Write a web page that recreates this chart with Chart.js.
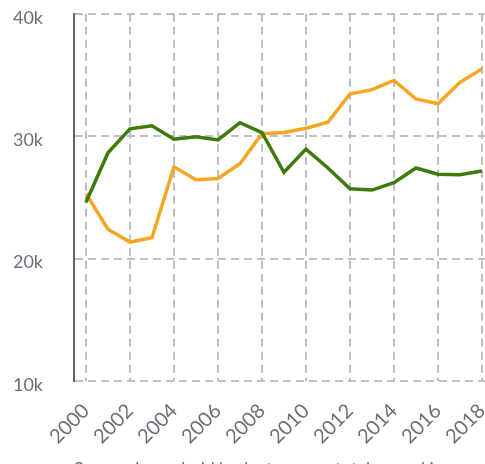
<!DOCTYPE html>
<html>
<head>
<meta charset="utf-8">
<script src="https://cdn.jsdelivr.net/npm/chart.js@4"></script>
<style>
  html, body { margin: 0; padding: 0; background: #fff; }
</style>
</head>
<body>
<canvas id="chart" width="485" height="464"></canvas>
<script>
// data
const years = [2000, 2001, 2002, 2003, 2004, 2005, 2006, 2007, 2008, 2009,
               2010, 2011, 2012, 2013, 2014, 2015, 2016, 2017, 2018];
const greenValues = [24600, 28650, 30600, 30850, 29750, 29950, 29700, 31100, 30300, 27050,
                     28950, 27400, 25700, 25600, 26200, 27400, 26900, 26850, 27150];
const orangeValues = [25300, 22400, 21350, 21700, 27500, 26450, 26550, 27750, 30200, 30300,
                      30650, 31150, 33450, 33800, 34550, 33050, 32650, 34400, 35500];
const yTickValues = [10000, 20000, 30000, 40000];
const xTitle = 'Source: household budget survey, total annual income';

const gridColor = '#bcbfc4';
const axisColor = '#5f6673';
const textColor = '#6b7079';

function toPoints(values) {
  return years.map((y, i) => ({ x: y, y: values[i] }));
}

const ctx = document.getElementById('chart').getContext('2d');
const chart = new Chart(ctx, {
  type: 'line',
  data: {
    datasets: [
      {
        label: 'Green',
        data: toPoints(greenValues),
        borderColor: '#3f7a0c',
        borderWidth: 3.5,
        pointRadius: 0,
        tension: 0
      },
      {
        label: 'Orange',
        data: toPoints(orangeValues),
        borderColor: '#f6a623',
        borderWidth: 3.5,
        pointRadius: 0,
        tension: 0
      }
    ]
  },
  options: {
    responsive: false,
    animation: false,
    layout: {
      autoPadding: false,
      padding: { top: 0, left: 0, right: 0, bottom: 0 }
    },
    plugins: {
      legend: { display: false },
      tooltip: { enabled: false }
    },
    scales: {
      x: {
        type: 'linear',
        min: 1999.455,
        max: 2018.14,
        border: { display: false, dash: [8, 5] },
        // invisible tick marks keep the labels away from the axis
        grid: { color: gridColor, lineWidth: 2, drawTicks: true, tickLength: 32, tickColor: 'rgba(0,0,0,0)' },
        ticks: {
          stepSize: 2,
          includeBounds: false,
          minRotation: 45,
          maxRotation: 45,
          padding: -14,
          color: textColor,
          font: { family: 'Lato', size: 20 },
          callback: v => String(v)
        },
        title: {
          display: true,
          text: xTitle,
          color: textColor,
          font: { family: 'Lato', size: 18 },
          padding: { top: 0, bottom: -16 }
        },
        afterFit: scale => { scale.height = 83; }
      },
      y: {
        min: 10000,
        max: 40000,
        border: { display: true, color: axisColor, width: 2, dash: [8, 5] },
        grid: { color: gridColor, lineWidth: 2, drawTicks: true, tickLength: 28, tickColor: 'rgba(0,0,0,0)' },
        afterBuildTicks: scale => {
          scale.ticks = yTickValues.map(v => ({ value: v }));
        },
        ticks: {
          padding: 3,
          labelOffset: 4,
          color: textColor,
          font: { family: 'Lato', size: 18 },
          callback: v => (v / 1000) + 'k'
        },
        afterFit: scale => { scale.width = 74; }
      }
    }
  }
});
</script>
</body>
</html>
